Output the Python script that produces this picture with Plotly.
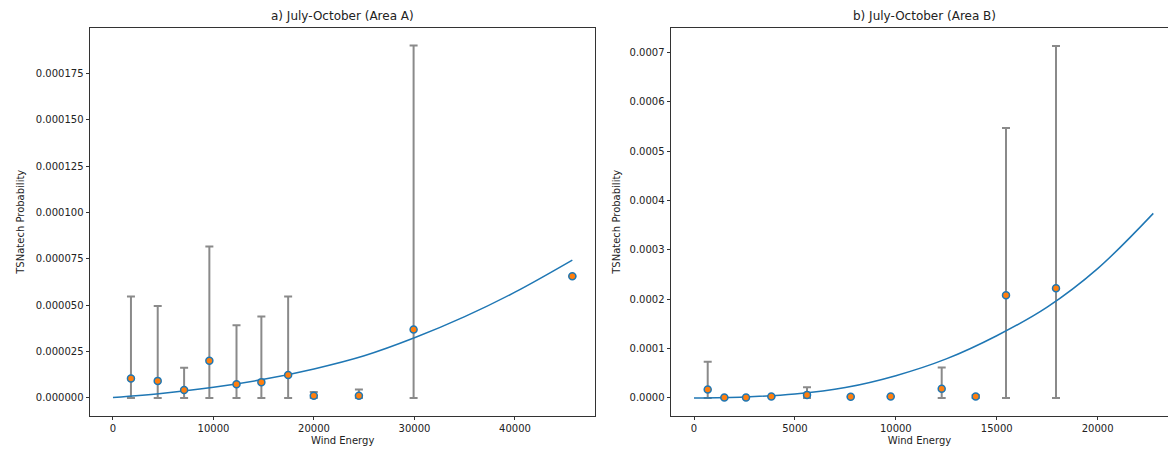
import plotly.graph_objects as go

# ---------- Panel a) Area A ----------
a_x = [1789, 4453, 7079, 9591, 12293, 14767, 17431, 19982, 24473, 29915, 45710]
a_y = [1.046e-5, 0.917e-5, 0.43e-5, 2.0e-5, 0.74e-5, 0.85e-5, 1.24e-5, 0.11e-5, 0.11e-5, 3.69e-5, 6.56e-5]
a_err_up = [5.47e-5, 4.95e-5, 1.62e-5, 8.17e-5, 3.92e-5, 4.39e-5, 5.47e-5, 0.32e-5, 0.45e-5, 1.90e-4, 6.56e-5]
a_err_low = [0, 0, 0, 0, 0, 0, 0, 0, 0, 0, 6.56e-5]
a_curve_x = [0, 5000, 10000, 15000, 20000, 25000, 30000, 35000, 40000, 45710]
a_curve_y = [0.02e-5, 0.25e-5, 0.57e-5, 1.0e-5, 1.56e-5, 2.27e-5, 3.24e-5, 4.38e-5, 5.7e-5, 7.43e-5]

# ---------- Panel b) Area B ----------
b_x = [679, 1503, 2577, 3832, 5600, 7765, 9747, 12274, 13959, 15461, 17938]
b_y = [1.70e-5, 0.07e-5, 0.07e-5, 0.28e-5, 0.61e-5, 0.21e-5, 0.28e-5, 1.83e-5, 0.28e-5, 2.08e-4, 2.22e-4]
b_err_up = [7.30e-5, 0.07e-5, 0.07e-5, 0.28e-5, 2.17e-5, 0.21e-5, 0.28e-5, 6.16e-5, 0.6e-5, 5.47e-4, 7.13e-4]
b_err_low = [0, 0.07e-5, 0.07e-5, 0.28e-5, 0, 0.21e-5, 0.28e-5, 0, 0, 0, 0]
b_curve_x = [0, 2500, 5000, 7500, 10000, 12500, 15000, 17500, 20000, 22760]
b_curve_y = [0.0, 0.2e-5, 0.8e-5, 2.1e-5, 4.5e-5, 7.9e-5, 12.6e-5, 18.4e-5, 26.2e-5, 37.4e-5]

titles = ["a) July-October (Area A)", "b) July-October (Area B)"]
x_label = "Wind Energy"
y_label = "TSNatech Probability"

W, H = 1168, 449
BLUE = "#1f77b4"
ORANGE = "#ff7f0e"
GRAY = "#8a8a8a"
FONT = "DejaVu Sans"

fig = go.Figure()

def add_panel(xs, ys, ups, lows, cx, cy, xa, ya):
    plus = [u - y for u, y in zip(ups, ys)]
    minus = [y - l for y, l in zip(ys, lows)]
    fig.add_trace(go.Scatter(
        x=xs, y=ys, mode="markers", xaxis=xa, yaxis=ya,
        marker=dict(size=7, color="rgba(0,0,0,0)"),
        error_y=dict(type="data", symmetric=False, array=plus, arrayminus=minus,
                     color=GRAY, thickness=2, width=4),
        showlegend=False, hoverinfo="skip"))
    fig.add_trace(go.Scatter(
        x=cx, y=cy, mode="lines", xaxis=xa, yaxis=ya,
        line=dict(color=BLUE, width=1.5, shape="spline", smoothing=1.0),
        showlegend=False))
    fig.add_trace(go.Scatter(
        x=xs, y=ys, mode="markers", xaxis=xa, yaxis=ya,
        marker=dict(size=7, color=ORANGE, line=dict(color=BLUE, width=1.5)),
        showlegend=False))

add_panel(a_x, a_y, a_err_up, a_err_low, a_curve_x, a_curve_y, "x", "y")
add_panel(b_x, b_y, b_err_up, b_err_low, b_curve_x, b_curve_y, "x2", "y2")

top_px, bot_px = 28, 415.5
ydom = [1 - bot_px / H, 1 - top_px / H]
ax_common = dict(showgrid=False, zeroline=False, ticks="outside", ticklen=3.5,
                 tickwidth=0.8, tickcolor="#333", linecolor="#333", linewidth=0.9,
                 showline=True, tickfont=dict(family=FONT, size=10, color="#222"))

fig.update_layout(
    width=W, height=H, margin=dict(l=0, r=0, t=0, b=0),
    paper_bgcolor="white", plot_bgcolor="white",
    xaxis=dict(domain=[90 / W, 595.3 / W], range=[-2286, 47996], dtick=10000, tick0=0,
               tickformat="d", mirror=True, anchor="y",
               title=dict(text=x_label, font=dict(family=FONT, size=10, color="#222"), standoff=4),
               **ax_common),
    yaxis=dict(domain=ydom, range=[-0.95e-5, 1.995e-4], dtick=0.000025, tick0=0,
               tickformat=".6f", mirror=True, anchor="x",
               title=dict(text=y_label, font=dict(family=FONT, size=10, color="#222"), standoff=9),
               **ax_common),
    xaxis2=dict(domain=[671 / W, 1.0], range=[-1140, 23488], dtick=5000, tick0=0,
                tickformat="d", mirror=True, anchor="y2",
                title=dict(text=x_label, font=dict(family=FONT, size=10, color="#222"), standoff=4),
                **ax_common),
    yaxis2=dict(domain=ydom, range=[-0.357e-4, 7.497e-4], dtick=0.0001, tick0=0,
                tickformat=".4f", mirror=False, anchor="x2",
                title=dict(text=y_label, font=dict(family=FONT, size=10, color="#222"), standoff=7),
                **ax_common),
)

centers = [(90 + 595.3) / 2 / W, (671 + 1177) / 2 / W]
for t, cxp in zip(titles, centers):
    fig.add_annotation(text=t, x=cxp, y=ydom[1], xref="paper", yref="paper",
                       xanchor="center", yanchor="bottom", yshift=3, showarrow=False,
                       font=dict(family=FONT, size=12, color="#222"))

fig.write_html("out.html")
